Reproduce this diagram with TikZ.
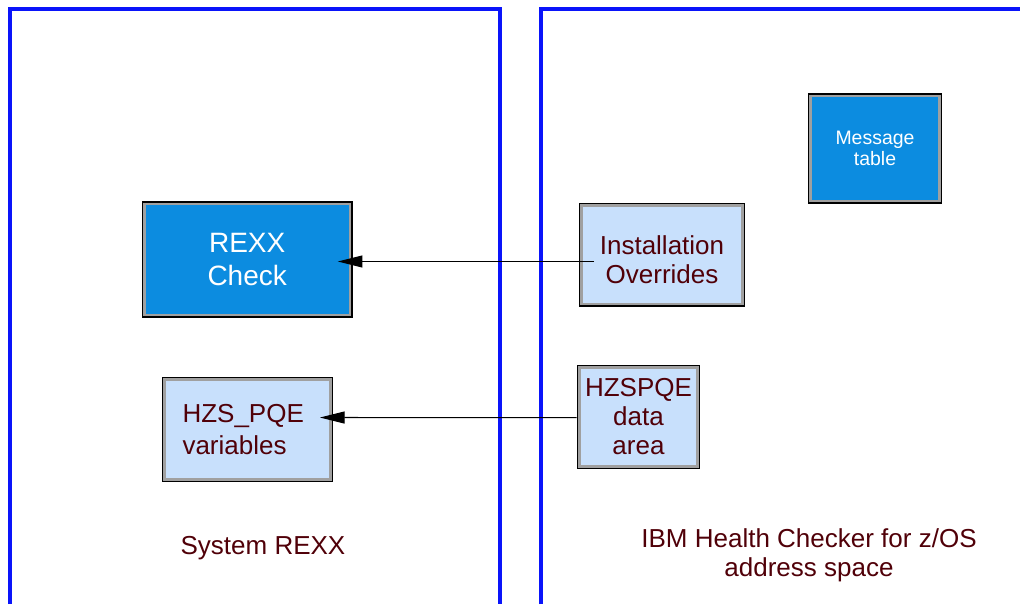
\documentclass[tikz,border=0pt]{standalone}
\usepackage{fontspec}
\setmainfont{Liberation Sans}
\usetikzlibrary{arrows.meta}
\definecolor{panelblue}{RGB}{10,20,250}
\definecolor{chkblue}{RGB}{12,140,224}
\definecolor{datablue}{RGB}{200,224,252}
\definecolor{bandgray}{RGB}{160,160,160}
\definecolor{txtbrown}{RGB}{80,0,8}
\begin{document}
\begin{tikzpicture}[x=0.75pt,y=-0.75pt,>={Triangle[length=18.5pt,width=9pt]},
        box/.style={draw=black,line width=1.2pt,fill=bandgray,inner sep=0pt,align=center,
            path picture={\fill[#1] ([shift={(2.4pt,2.4pt)}]path picture bounding box.south west)
                rectangle ([shift={(-2.4pt,-2.4pt)}]path picture bounding box.north east);}},
        chk/.style={box=chkblue,text=white},
        dat/.style={box=datablue,text=txtbrown,font=\fontsize{19.5}{21.75}\selectfont},
        panel/.style={draw=panelblue,line width=2.6pt},
        lbl/.style={text=txtbrown,align=center,font=\fontsize{19.5}{21.75}\selectfont},
        conn/.style={->,line width=0.8pt}]
    \useasboundingbox (0,0) rectangle (1020,604);
    \draw[panel] (10,604) |- (500,9) -- (500,604);
    \draw[panel] (541,604) |- (1020,9);
    \node[chk,minimum width=157.1pt,minimum height=86.3pt,font=\fontsize{21}{24.5}\selectfont] (rexx) at (247.2,259.5) {REXX\\Check};
    \node[chk,minimum width=99.8pt,minimum height=81.4pt,font=\fontsize{14.6}{16.2}\selectfont] (msgtab) at (875,148.5) {Message\\table};
    \node[dat,minimum width=123.8pt,minimum height=76.9pt] (inst) at (662,254.7) {\rule{0pt}{21.5pt}Installation\\Overrides};
    \node[dat,minimum width=127.5pt,minimum height=78pt,text width=97.5pt,align=left,font=\fontsize{19.5}{24}\selectfont] (pqevar) at (247.5,429.5) {HZS\_PQE\\variables};
    \node[dat,minimum width=91.5pt,minimum height=77.3pt] (pqedata) at (638.5,417) {HZSPQE\\data\\area};
    \draw[conn] ([xshift=11.6pt,yshift=-5.1pt]inst.west) -- ([xshift=-11.2pt,yshift=-1.5pt]rexx.east);
    \draw[conn] ([yshift=-0.5pt]pqedata.west) -- ([xshift=-10pt,yshift=9pt]pqevar.east);
    \node[lbl] (sysrexx) at (263,548) {System REXX};
    \node[lbl] (hcaddr) at (809,555) {IBM Health Checker for z/OS\\address space};
\end{tikzpicture}
\end{document}
